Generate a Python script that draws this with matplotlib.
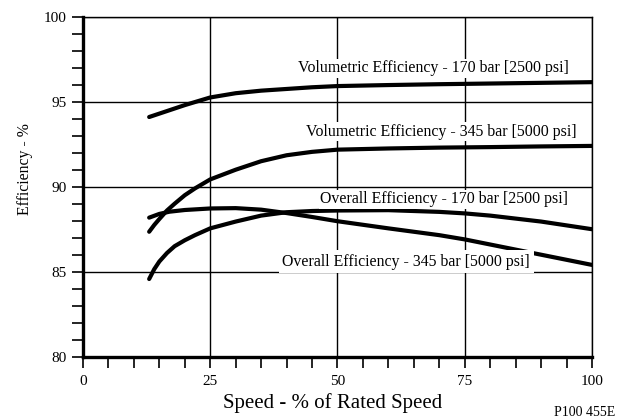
import numpy as np
import matplotlib
matplotlib.use("Agg")
import matplotlib.pyplot as plt
from matplotlib.ticker import MultipleLocator

plt.rcParams['font.family'] = ['Liberation Serif', 'DejaVu Serif']

# speed (% of rated) where values were read
spd_a = [13, 15, 17, 20, 25, 30, 35, 40, 45, 50, 60, 70, 80, 90, 100]
vol_170 = [94.10, 94.30, 94.50, 94.80, 95.25, 95.50, 95.65, 95.75, 95.85, 95.92, 95.98, 96.03, 96.07, 96.11, 96.15]

spd_b = [13, 14, 15, 16.5, 18, 20, 22, 25, 30, 35, 40, 45, 50, 60, 70, 80, 90, 100]
vol_345 = [87.35, 87.75, 88.10, 88.60, 89.00, 89.50, 89.90, 90.43, 91.00, 91.50, 91.85, 92.05, 92.18, 92.25, 92.30, 92.33, 92.37, 92.40]

spd_c = [13, 15, 17, 20, 25, 30, 35, 40, 45, 50, 60, 70, 75, 80, 90, 100]
ovr_345 = [88.18, 88.40, 88.53, 88.63, 88.72, 88.74, 88.65, 88.45, 88.22, 87.97, 87.55, 87.15, 86.90, 86.60, 86.00, 85.40]

spd_d = [13, 14, 15, 16.5, 18, 20, 22, 25, 30, 35, 40, 45, 50, 60, 70, 75, 80, 90, 100]
ovr_170 = [84.57, 85.15, 85.60, 86.10, 86.50, 86.85, 87.15, 87.55, 87.95, 88.30, 88.50, 88.57, 88.60, 88.62, 88.52, 88.43, 88.30, 87.95, 87.50]

labels = ["Volumetric Efficiency - 170 bar [2500 psi]",
          "Volumetric Efficiency - 345 bar [5000 psi]",
          "Overall Efficiency - 170 bar [2500 psi]",
          "Overall Efficiency - 345 bar [5000 psi]"]
label_x = [68.8, 70.4, 70.9, 63.5]
label_y = [96.96, 93.24, 89.26, 85.59]
label_pad = [1, 1, 1, 2.5]

fig = plt.figure(figsize=(6.24, 4.2), dpi=100)
ax = fig.add_axes([0.133, 0.1507, 0.8157, 0.8095])

for xs, ys in [(spd_a, vol_170), (spd_b, vol_345), (spd_c, ovr_345), (spd_d, ovr_170)]:
    ax.plot(xs, ys, color="black", lw=3, solid_capstyle="round", solid_joinstyle="round", zorder=3)

for t, x, y, p in zip(labels, label_x, label_y, label_pad):
    ax.text(x, y, t, ha="center", va="center", fontsize=11.4, zorder=5,
            bbox=dict(facecolor="white", edgecolor="none", pad=p))

ax.set_xlim(0, 100)
ax.set_ylim(80, 100)
ax.xaxis.set_major_locator(MultipleLocator(25))
ax.xaxis.set_minor_locator(MultipleLocator(5))
ax.yaxis.set_major_locator(MultipleLocator(5))
ax.yaxis.set_minor_locator(MultipleLocator(1))
ax.tick_params(which="both", direction="out", length=8, width=1.2, colors="black")
ax.tick_params(axis="x", pad=5, labelsize=11)
ax.tick_params(axis="y", pad=4, labelsize=11)
ax.grid(True, which="major", color="black", lw=1, zorder=1)

ax.spines["left"].set_linewidth(2.4)
ax.spines["bottom"].set_linewidth(2.4)
ax.spines["top"].set_linewidth(1)
ax.spines["right"].set_linewidth(1)

ax.set_xlabel("Speed - % of Rated Speed", fontsize=15)
ax.xaxis.set_label_coords(0.4906, -0.108)
ax.set_ylabel("Efficiency - %", fontsize=11.3)
ax.yaxis.set_label_coords(-0.098, 0.552)

fig.text(0.888, 0.017, "P100 455E", fontsize=10, ha="left", va="center")

fig.savefig("out.png", dpi=100)
